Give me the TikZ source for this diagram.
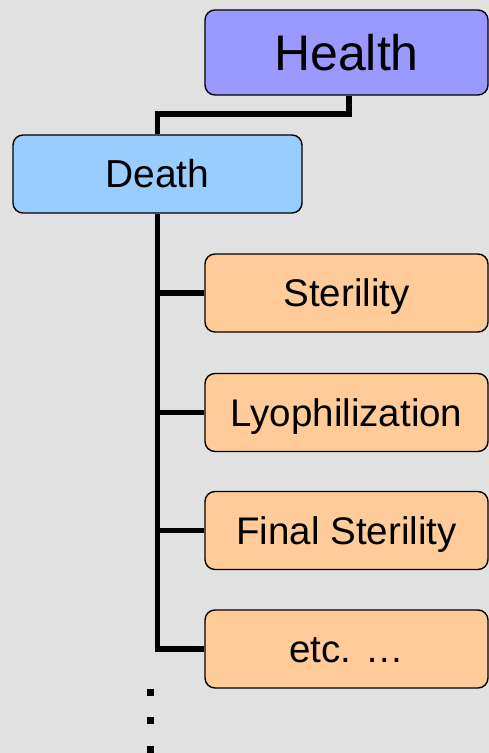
\documentclass[tikz,border=0pt]{standalone}
\usepackage{fontspec}
\setmainfont{Liberation Sans}
\begin{document}
\begin{tikzpicture}[x=1pt,y=-1pt,
  box/.style={draw=black, line width=1.4pt, rounded corners=10pt, inner sep=0pt,
    align=center, text depth=0pt},
  top/.style={box, fill=topfill, minimum width=283pt, minimum height=85pt,
    font=\fontsize{50}{60}\selectfont, text height=35.8pt},
  mid/.style={box, fill=midfill, minimum width=289pt, minimum height=78pt,
    font=\fontsize{39}{46}\selectfont, text height=27.9pt},
  leaf/.style={box, fill=leaffill, minimum width=283pt, minimum height=78pt,
    font=\fontsize{38.5}{46}\selectfont, text height=27.6pt},
  conn/.style={draw=black, line width=5.5pt, line join=miter},
  dot/.style={fill=black, inner sep=0pt, minimum size=7pt}]
\definecolor{topfill}{HTML}{9999FF}
\definecolor{midfill}{HTML}{99CCFF}
\definecolor{leaffill}{HTML}{FFCC99}
\definecolor{bg}{HTML}{E1E1E1}
\fill[bg] (0,0) rectangle (489,753);
\useasboundingbox (0,0) rectangle (489,753);

\node[top]  (health) at (346.5,52.5) {Health};
\node[mid]  (death)  at (157.5,174)  {Death};
\node[leaf] (s1)     at (346.5,293)  {Sterility};
\node[leaf] (s2)     at (346.5,412.5){Lyophilization};
\node[leaf] (s3)     at (346.5,530.5){Final Sterility};
\node[leaf] (s4)     at (346.5,649)  {etc. \dots};

% elbow from the root down to the second level
\coordinate (j) at (349,114);
\draw[conn] (health.south -| j) -- (j) -| (death.north);

% trunk with the leaf branches
\draw[conn] (death.south) |- (s4.west);
\draw[conn] (death.south |- s1.west) -- (s1.west);
\draw[conn] (death.south |- s2.west) -- (s2.west);
\draw[conn] (death.south |- s3.west) -- (s3.west);

% continuation marks below the trunk
\node[dot] (d1) at (150.5,692) {};
\node[dot] (d2) at (150.5,720) {};
\node[dot] (d3) at (150.5,749.5) {};
\end{tikzpicture}
\end{document}
